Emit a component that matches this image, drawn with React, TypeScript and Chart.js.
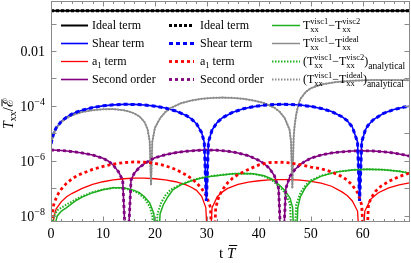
import React, { useEffect, useRef } from "react";
import { Chart, registerables } from "chart.js";

Chart.register(...registerables);

const SERIF = '"Liberation Serif", "DejaVu Serif", serif';

// axis ranges and ticks
const xMin = 0;
const xMax = 69;
const yMin = 6e-9;
const yMax = 0.66;
const xTickValues = [0, 10, 20, 30, 40, 50, 60];
const xMinorValues = [2, 4, 6, 8, 12, 14, 16, 18, 22, 24, 26, 28, 32, 34, 36, 38, 42, 44, 46, 48, 52, 54, 56, 58, 62, 64, 66, 68];
const yDecadeValues = [1e-8, 1e-7, 1e-6, 1e-5, 1e-4, 1e-3, 1e-2, 1e-1];
const yLabelValues = [1e-2, 1e-4, 1e-6, 1e-8];
const yLabelBase = ["0.01", "10", "10", "10"];
const yLabelSup = ["", "−4", "−6", "−8"];

// Ideal term
const idealT = [0, 69];
const idealV = [0.29, 0.29];

// Shear term
const shearT = [0, 0.5, 1, 2, 3, 4, 5, 6, 8, 10, 12, 14, 16, 18, 20, 22, 24, 26, 27, 28, 29, 29.5, 29.9, 30.3, 31, 32, 33, 35, 37, 39, 41, 43, 44.65, 46, 48, 50, 52, 54, 56, 57, 58, 59, 59.4, 59.8, 60.5, 61, 62, 64, 66, 68, 69];
const shearV = [4.2e-6, 1.01e-5, 1.61e-5, 2.78e-5, 3.92e-5, 5.02e-5, 6.07e-5, 7.05e-5, 8.77e-5, 1.01e-4, 1.1e-4, 1.146e-4, 1.14e-4, 1.086e-4, 9.86e-5, 8.41e-5, 6.6e-5, 4.53e-5, 3.41e-5, 2.25e-5, 1.07e-5, 4.7e-6, 3.5e-8, 4.9e-6, 1.34e-5, 2.55e-5, 3.73e-5, 5.94e-5, 7.89e-5, 9.48e-5, 1.064e-4, 1.132e-4, 1.15e-4, 1.138e-4, 1.078e-4, 9.68e-5, 8.15e-5, 6.24e-5, 4.07e-5, 2.93e-5, 1.71e-5, 4.9e-6, 3.5e-8, 4.9e-6, 1.34e-5, 1.95e-5, 3.14e-5, 5.41e-5, 7.43e-5, 9.12e-5, 9.81e-5];

// a1 term (solid)
const a1T = [0.3, 0.6, 1, 2, 3, 4, 6, 8, 10, 12, 14, 16, 18, 20, 22, 24, 26, 27, 28, 29, 29.8, 30.4, 31, 32, 33, 34, 36, 38, 40, 42, 44, 46, 48, 50, 52, 54, 56, 57, 58, 59, 59.7, 60.4, 61.5, 63, 65, 67, 69];
const a1V = [3e-9, 1e-8, 1.8e-8, 3.3e-8, 5e-8, 6.5e-8, 1.0e-7, 1.4e-7, 1.75e-7, 2.05e-7, 2.25e-7, 2.35e-7, 2.35e-7, 2.25e-7, 2.05e-7, 1.75e-7, 1.35e-7, 1.1e-7, 8.5e-8, 5.2e-8, 2e-8, 1e-10, 2e-8, 5e-8, 7.5e-8, 1.0e-7, 1.4e-7, 1.7e-7, 1.9e-7, 2.05e-7, 2.1e-7, 2.1e-7, 2.0e-7, 1.8e-7, 1.55e-7, 1.2e-7, 7.5e-8, 5.5e-8, 3.5e-8, 1.5e-8, 1e-10, 1.5e-8, 4e-8, 7e-8, 1.05e-7, 1.35e-7, 1.6e-7];

// a1 term (dashed)
const a1DT = [0.1, 0.5, 1, 1.5, 2, 3, 4, 5, 6, 8, 10, 12, 14, 16, 18, 20, 22, 24, 26, 27, 28, 29, 30, 30.7, 31.2, 31.7, 32.3, 33, 34, 35, 36, 38, 40, 42, 44, 46, 48, 50, 52, 54, 56, 57, 58, 59, 59.8, 60.5, 61.1, 61.6, 62.5, 63.5, 65, 67, 69];
const a1DV = [5e-9, 2.5e-8, 4.5e-8, 7e-8, 9.5e-8, 1.55e-7, 2.2e-7, 2.9e-7, 3.5e-7, 4.9e-7, 6.3e-7, 7.7e-7, 8.7e-7, 9.2e-7, 9e-7, 8.2e-7, 6.7e-7, 4.9e-7, 3.1e-7, 2.3e-7, 1.6e-7, 1e-7, 5e-8, 2e-8, 1e-10, 2e-8, 5e-8, 9e-8, 1.6e-7, 2.4e-7, 3.2e-7, 4.9e-7, 7.2e-7, 8.7e-7, 9e-7, 8.5e-7, 7.3e-7, 6e-7, 5.2e-7, 4e-7, 2.7e-7, 2e-7, 1.3e-7, 7e-8, 2.5e-8, 1e-10, 2.5e-8, 4.5e-8, 8e-8, 1.2e-7, 1.8e-7, 2.7e-7, 3.6e-7];

// Second order
const secondT = [0, 2, 4, 6, 8, 10, 11, 12, 13, 13.8, 14.6, 15.4, 16, 17, 18, 19, 20, 22, 24, 26, 28, 30, 32, 34, 36, 38, 40, 41, 42, 43, 43.8, 44.5, 45.2, 46, 47, 48, 49, 50, 52, 54, 56, 58, 60, 62, 64, 66, 68, 69];
const secondV = [2.5e-6, 2.4e-6, 2.2e-6, 1.95e-6, 1.65e-6, 1.25e-6, 1.0e-6, 7e-7, 4e-7, 2e-7, 1e-10, 2e-7, 3.5e-7, 5.8e-7, 8e-7, 1.05e-6, 1.3e-6, 1.68e-6, 2e-6, 2.25e-6, 2.42e-6, 2.5e-6, 2.45e-6, 2.25e-6, 1.95e-6, 1.55e-6, 1.05e-6, 8e-7, 5.5e-7, 2.9e-7, 1e-7, 1e-10, 1e-7, 2.8e-7, 5e-7, 7.5e-7, 1e-6, 1.25e-6, 1.65e-6, 1.95e-6, 2.15e-6, 2.3e-6, 2.35e-6, 2.3e-6, 2.15e-6, 1.95e-6, 1.65e-6, 1.5e-6];

// T_visc1 - T_visc2 (numerical)
const diff12T = [0.8, 1.2, 2, 3, 4, 5, 6, 8, 10, 12, 14, 16, 17, 18, 19, 19.8, 20.4, 21, 21.6, 22.5, 23.5, 25, 27, 29, 31, 33, 35, 37, 39, 41, 42.5, 44, 45, 46, 46.5, 47, 47.5, 48, 49, 50, 52, 55, 58, 61, 64, 67, 69];
const diff12V = [5e-9, 1e-8, 1.5e-8, 2e-8, 2.8e-8, 3.8e-8, 4.8e-8, 7e-8, 9e-8, 1.05e-7, 1.05e-7, 8.5e-8, 7e-8, 5e-8, 3e-8, 1.2e-8, 1e-10, 1.2e-8, 2.5e-8, 5e-8, 9e-8, 1.35e-7, 1.9e-7, 2.4e-7, 2.8e-7, 3.1e-7, 3.4e-7, 3.5e-7, 3.4e-7, 2.9e-7, 2.2e-7, 1.3e-7, 8.5e-8, 4.5e-8, 2e-8, 1e-10, 2e-8, 5e-8, 1.1e-7, 1.8e-7, 2.8e-7, 4e-7, 4.7e-7, 5e-7, 4.8e-7, 4.2e-7, 3.6e-7];

// T_visc1 - T_visc2 (analytical)
const diff12AT = [0.2, 0.6, 1.2, 2, 3, 4, 5, 6, 8, 10, 12, 14, 16, 17, 18, 19, 19.5, 20, 20.5, 21.2, 22, 23, 25, 27, 29, 31, 33, 35, 37, 39, 41, 42.5, 44, 45, 46, 46.6, 47.2, 48, 49, 50, 52, 55, 58, 61, 64, 67, 69];
const diff12AV = [5e-9, 1e-8, 1.6e-8, 2e-8, 2.6e-8, 3.3e-8, 4.2e-8, 5.2e-8, 7.3e-8, 9.2e-8, 1.05e-7, 1.02e-7, 8e-8, 6.3e-8, 4.3e-8, 2.2e-8, 1e-8, 1e-10, 1.2e-8, 3e-8, 5.5e-8, 9e-8, 1.4e-7, 1.95e-7, 2.45e-7, 2.85e-7, 3.15e-7, 3.4e-7, 3.5e-7, 3.35e-7, 2.8e-7, 2e-7, 1.15e-7, 7e-8, 2.8e-8, 1e-10, 2.5e-8, 7e-8, 1.3e-7, 1.95e-7, 2.9e-7, 4e-7, 4.7e-7, 5e-7, 4.8e-7, 4.2e-7, 3.6e-7];

// T_visc1 - T_ideal (numerical and analytical coincide)
const diffIdT = [0, 0.5, 1, 2, 3, 4, 5, 6, 8, 10, 12, 14, 15, 16, 17, 18, 18.6, 19, 19.25, 19.5, 20, 21, 22, 23, 25, 27, 29, 31, 33, 35, 37, 39, 41, 43, 44, 45, 45.9, 46.2, 46.45, 46.7, 46.9, 47.2, 47.6, 48, 49, 50, 52, 55, 58, 62, 65, 69];
const diffIdV = [4.0e-6, 9.5e-6, 1.55e-5, 2.65e-5, 3.6e-5, 4.5e-5, 5.3e-5, 6.0e-5, 7.0e-5, 7.6e-5, 7.7e-5, 7.0e-5, 6.3e-5, 5.4e-5, 4.2e-5, 2.6e-5, 1.4e-5, 5e-6, 1.3e-7, 5e-6, 1.6e-5, 3.6e-5, 6e-5, 8.4e-5, 1.25e-4, 1.58e-4, 1.82e-4, 1.97e-4, 2.02e-4, 1.97e-4, 1.82e-4, 1.58e-4, 1.28e-4, 8.6e-5, 6.2e-5, 3.6e-5, 1.4e-5, 5e-6, 1e-7, 7e-6, 2e-5, 5e-5, 1.1e-4, 1.8e-4, 3.2e-4, 4.4e-4, 6e-4, 7.5e-4, 8.3e-4, 8.8e-4, 8.9e-4, 8.7e-4];

const BLACK = "#000000";
const BLUE = "#0000ff";
const RED = "#ff0000";
const PURPLE = "#800080";
const GREEN = "#1faf1f";
const GRAY = "#8c8c8c";
const FRAME = "#8a8a8a";

const mk = (T: number[], V: number[]) => T.map((t, i) => ({ x: t, y: V[i] }));

type Part = { t?: string; size?: number; dy?: number; sup?: string; sub?: string; italic?: boolean };

function drawRich(ctx: CanvasRenderingContext2D, x: number, y: number, parts: Part[]) {
  for (const p of parts) {
    if (p.sup !== undefined || p.sub !== undefined) {
      const s = p.size ?? 8.5;
      ctx.font = `${s}px ${SERIF}`;
      let w = 0;
      if (p.sup) {
        ctx.fillText(p.sup, x, y - 5);
        w = Math.max(w, ctx.measureText(p.sup).width);
      }
      if (p.sub) {
        ctx.fillText(p.sub, x, y + 3);
        w = Math.max(w, ctx.measureText(p.sub).width);
      }
      x += w;
    } else {
      const s = p.size ?? 12;
      ctx.font = `${p.italic ? "italic " : ""}${s}px ${SERIF}`;
      ctx.fillText(p.t || "", x, y + (p.dy ?? 0));
      x += ctx.measureText(p.t || "").width;
    }
  }
  return x;
}

const diffVisc: Part[] = [{ t: "T" }, { sup: "visc1", sub: "xx" }, { t: "−" }, { t: "T" }, { sup: "visc2", sub: "xx" }];
const diffIdeal: Part[] = [{ t: "T" }, { sup: "visc1", sub: "xx" }, { t: "−" }, { t: "T" }, { sup: "ideal", sub: "xx" }];
const a1Label: Part[] = [{ t: "a" }, { t: "1", size: 8.5, dy: 3 }, { t: " term" }];

const legendRows = [25, 43, 61, 79];
const legendCols = [
  { x0: 61, x1: 88, tx: 92, items: [
    { ds: 0, parts: [{ t: "Ideal term" }] as Part[] },
    { ds: 1, parts: [{ t: "Shear term" }] as Part[] },
    { ds: 2, parts: a1Label },
    { ds: 3, parts: [{ t: "Second order" }] as Part[] },
  ] },
  { x0: 169, x1: 194, tx: 200, items: [
    { ds: 6, parts: [{ t: "Ideal term" }] as Part[] },
    { ds: 7, parts: [{ t: "Shear term" }] as Part[] },
    { ds: 8, parts: a1Label },
    { ds: 9, parts: [{ t: "Second order" }] as Part[] },
  ] },
  { x0: 272, x1: 300, tx: 303, items: [
    { ds: 4, parts: diffVisc },
    { ds: 5, parts: diffIdeal },
    { ds: 10, parts: [{ t: "(" }, ...diffVisc, { t: ")" }, { t: "analytical", size: 9.5, dy: 3.5 }] as Part[] },
    { ds: 11, parts: [{ t: "(" }, ...diffIdeal, { t: ")" }, { t: "analytical", size: 9.5, dy: 3.5 }] as Part[] },
  ] },
];

const decorPlugin = {
  id: "decor",
  afterDatasetsDraw(chart: any) {
    const ctx: CanvasRenderingContext2D = chart.ctx;
    const a = chart.chartArea;
    const xs = chart.scales.x;
    const ys = chart.scales.y;
    ctx.save();
    // frame
    const L = Math.round(a.left) + 0.5;
    const R = Math.round(a.right) - 0.5;
    const T = Math.round(a.top) + 0.5;
    const B = Math.round(a.bottom) - 0.5;
    ctx.strokeStyle = FRAME;
    ctx.lineWidth = 1;
    ctx.setLineDash([]);
    ctx.strokeRect(L, T, R - L, B - T);
    ctx.beginPath();
    const xTick = (v: number, len: number) => {
      const px = Math.round(xs.getPixelForValue(v)) + 0.5;
      ctx.moveTo(px, B);
      ctx.lineTo(px, B - len);
      ctx.moveTo(px, T);
      ctx.lineTo(px, T + len);
    };
    xTickValues.forEach((v) => xTick(v, 5));
    xMinorValues.forEach((v) => xTick(v, 2.5));
    yDecadeValues.forEach((v) => {
      const py = Math.round(ys.getPixelForValue(v)) + 0.5;
      ctx.moveTo(L, py);
      ctx.lineTo(L + 5, py);
      ctx.moveTo(R, py);
      ctx.lineTo(R - 5, py);
    });
    ctx.stroke();

    // tick labels
    ctx.fillStyle = "#000";
    ctx.font = `14px ${SERIF}`;
    ctx.textAlign = "center";
    ctx.textBaseline = "alphabetic";
    xTickValues.forEach((v) => {
      ctx.fillText(String(v), xs.getPixelForValue(v), a.bottom + 16);
    });
    ctx.textAlign = "right";
    yLabelValues.forEach((v, i) => {
      const py = ys.getPixelForValue(v);
      const right = a.left - 6;
      let w = 0;
      if (yLabelSup[i]) {
        ctx.font = `10px ${SERIF}`;
        ctx.fillText(yLabelSup[i], right, py - 1);
        w = ctx.measureText(yLabelSup[i]).width;
      }
      ctx.font = `14px ${SERIF}`;
      ctx.fillText(yLabelBase[i], right - w, py + 5);
    });

    // x title: t T-bar
    ctx.textAlign = "left";
    ctx.font = `15px ${SERIF}`;
    const tx = 219;
    const tb = 258;
    ctx.fillText("t", tx, tb);
    let xx = tx + ctx.measureText("t ").width;
    ctx.font = `italic 15px ${SERIF}`;
    ctx.fillText("T", xx, tb);
    const wT = ctx.measureText("T").width;
    ctx.strokeStyle = "#000";
    ctx.lineWidth = 1;
    ctx.beginPath();
    ctx.moveTo(xx + 2, tb - 12.5);
    ctx.lineTo(xx + wT + 2, tb - 12.5);
    ctx.stroke();

    // y title: T_xx / E-bar (rotated)
    ctx.save();
    ctx.translate(0, 112);
    ctx.rotate(-Math.PI / 2);
    const base = 13;
    let lx = -17;
    ctx.font = `italic 14px ${SERIF}`;
    ctx.fillText("T", lx, base);
    lx += ctx.measureText("T").width;
    ctx.font = `10px ${SERIF}`;
    ctx.fillText("xx", lx, base + 3);
    lx += ctx.measureText("xx").width;
    ctx.font = `14px ${SERIF}`;
    ctx.fillText("/", lx, base);
    lx += ctx.measureText("/").width;
    ctx.font = `14px ${SERIF}`;
    ctx.fillText("ℰ", lx, base);
    const wE = ctx.measureText("ℰ").width;
    ctx.beginPath();
    ctx.moveTo(lx + 1, base - 11);
    ctx.lineTo(lx + wE, base - 11);
    ctx.stroke();
    ctx.restore();

    // legend
    legendCols.forEach((col) => {
      col.items.forEach((it, r) => {
        const y = legendRows[r];
        const ds = chart.data.datasets[it.ds];
        ctx.save();
        ctx.strokeStyle = ds.borderColor;
        ctx.lineWidth = ds.borderWidth;
        ctx.setLineDash(ds.borderDash || []);
        ctx.beginPath();
        ctx.moveTo(col.x0, y + 0.5);
        ctx.lineTo(col.x1, y + 0.5);
        ctx.stroke();
        ctx.restore();
        ctx.fillStyle = "#000";
        ctx.textAlign = "left";
        ctx.textBaseline = "alphabetic";
        drawRich(ctx, col.tx, y + 4, it.parts);
      });
    });
    ctx.restore();
  },
};

export default function App() {
  const ref = useRef<HTMLCanvasElement | null>(null);
  useEffect(() => {
    document.body.style.margin = "0";
    if (!ref.current) return;
    const line = (data: any, color: string, width: number, order: number, dash?: number[]) => ({
      data,
      borderColor: color,
      borderWidth: width,
      borderDash: dash || [],
      pointRadius: 0,
      fill: false,
      tension: 0,
      order,
    });
    const datasets = [
      line(mk(idealT, idealV), BLACK, 2, 9),
      line(mk(shearT, shearV), BLUE, 1.6, 8),
      line(mk(a1T, a1V), RED, 1.3, 8),
      line(mk(secondT, secondV), PURPLE, 1.6, 8),
      line(mk(diff12T, diff12V), GREEN, 1.5, 7),
      line(mk(diffIdT, diffIdV), GRAY, 1.5, 7),
      line(mk(idealT, idealV), BLACK, 3, 1, [3, 2]),
      line(mk(shearT, shearV), BLUE, 3, 1, [4, 3]),
      line(mk(a1DT, a1DV), RED, 2.8, 1, [3, 3]),
      line(mk(secondT, secondV), PURPLE, 2.8, 1, [3, 3]),
      line(mk(diff12AT, diff12AV), GREEN, 2, 2, [1.5, 1.5]),
      line(mk(diffIdT, diffIdV), GRAY, 2, 2, [1.5, 1.5]),
    ];
    const chart = new Chart(ref.current, {
      type: "line",
      data: { datasets },
      options: {
        animation: false,
        responsive: false,
        devicePixelRatio: 1,
        layout: { padding: { top: 1, right: 1.5, left: 0, bottom: 0 } },
        plugins: { legend: { display: false }, tooltip: { enabled: false } },
        scales: {
          x: {
            type: "linear",
            min: xMin,
            max: xMax,
            ticks: { display: false },
            grid: { display: false, drawTicks: false },
            border: { display: false },
            afterFit: (s: any) => {
              s.height = 41;
            },
          },
          y: {
            type: "logarithmic",
            min: yMin,
            max: yMax,
            ticks: { display: false },
            grid: { display: false, drawTicks: false },
            border: { display: false },
            afterFit: (s: any) => {
              s.width = 51;
            },
          },
        },
      } as any,
      plugins: [decorPlugin],
    });
    return () => chart.destroy();
  }, []);
  return (
    <div style={{ width: 411, height: 263 }}>
      <canvas ref={ref} width={411} height={263} style={{ display: "block" }} />
    </div>
  );
}
